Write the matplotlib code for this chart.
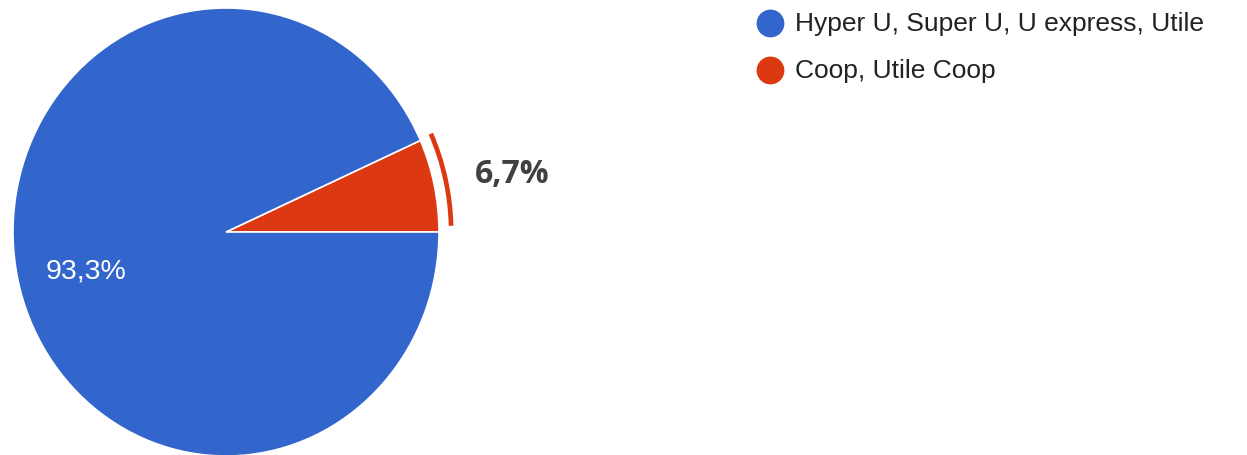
import matplotlib.pyplot as plt
from matplotlib.patches import Wedge

labels = ['Coop, Utile Coop', 'Hyper U, Super U, U express, Utile']
values = [6.7, 93.3]
colors = ['#DC3912', '#3366CC']
legend_order = [1, 0]

W, H = 1247, 456
fig = plt.figure(figsize=(W / 100, H / 100), dpi=100)

# pie centre at (226, 233) px, radius 213 px wide and 224 px tall (picture is stretched)
cx, cy, rx, ry = 226, 233, 213, 224
ax = fig.add_axes([0, 0, 470 / W, 1])
wedges, _ = ax.pie(values, colors=colors, startangle=0, counterclock=True,
                   wedgeprops=dict(edgecolor='white', linewidth=1.2))
ax.set_aspect('auto')
ax.set_xlim(-cx / rx, (470 - cx) / rx)
ax.set_ylim(-(H - cy) / ry, cy / ry)

# highlight ring outside the small slice
ang = 360 * values[0] / sum(values)
ax.add_patch(Wedge((0, 0), 1.068, 1.5, ang + 0.4, width=0.022,
                   color=colors[0], linewidth=0))

ax.text(-0.655, -0.17, '93,3%', color='white', fontsize=20.5,
        family='Liberation Sans', ha='center', va='center')
ax.text(1.345, 0.26, '6,7%', color='#404040', fontsize=23, fontweight='bold',
        family='Open Sans', ha='center', va='center')

# legend
for k, i in enumerate(legend_order):
    y = 1 - (24 + 47 * k) / H
    fig.lines.append(plt.Line2D([770 / W], [y], marker='o', markersize=19,
                                color=colors[i], transform=fig.transFigure))
    fig.text(795 / W, y, labels[i], color='#222222', fontsize=19,
             family='Liberation Sans', ha='left', va='center')

fig.savefig('out.png', dpi=100)
